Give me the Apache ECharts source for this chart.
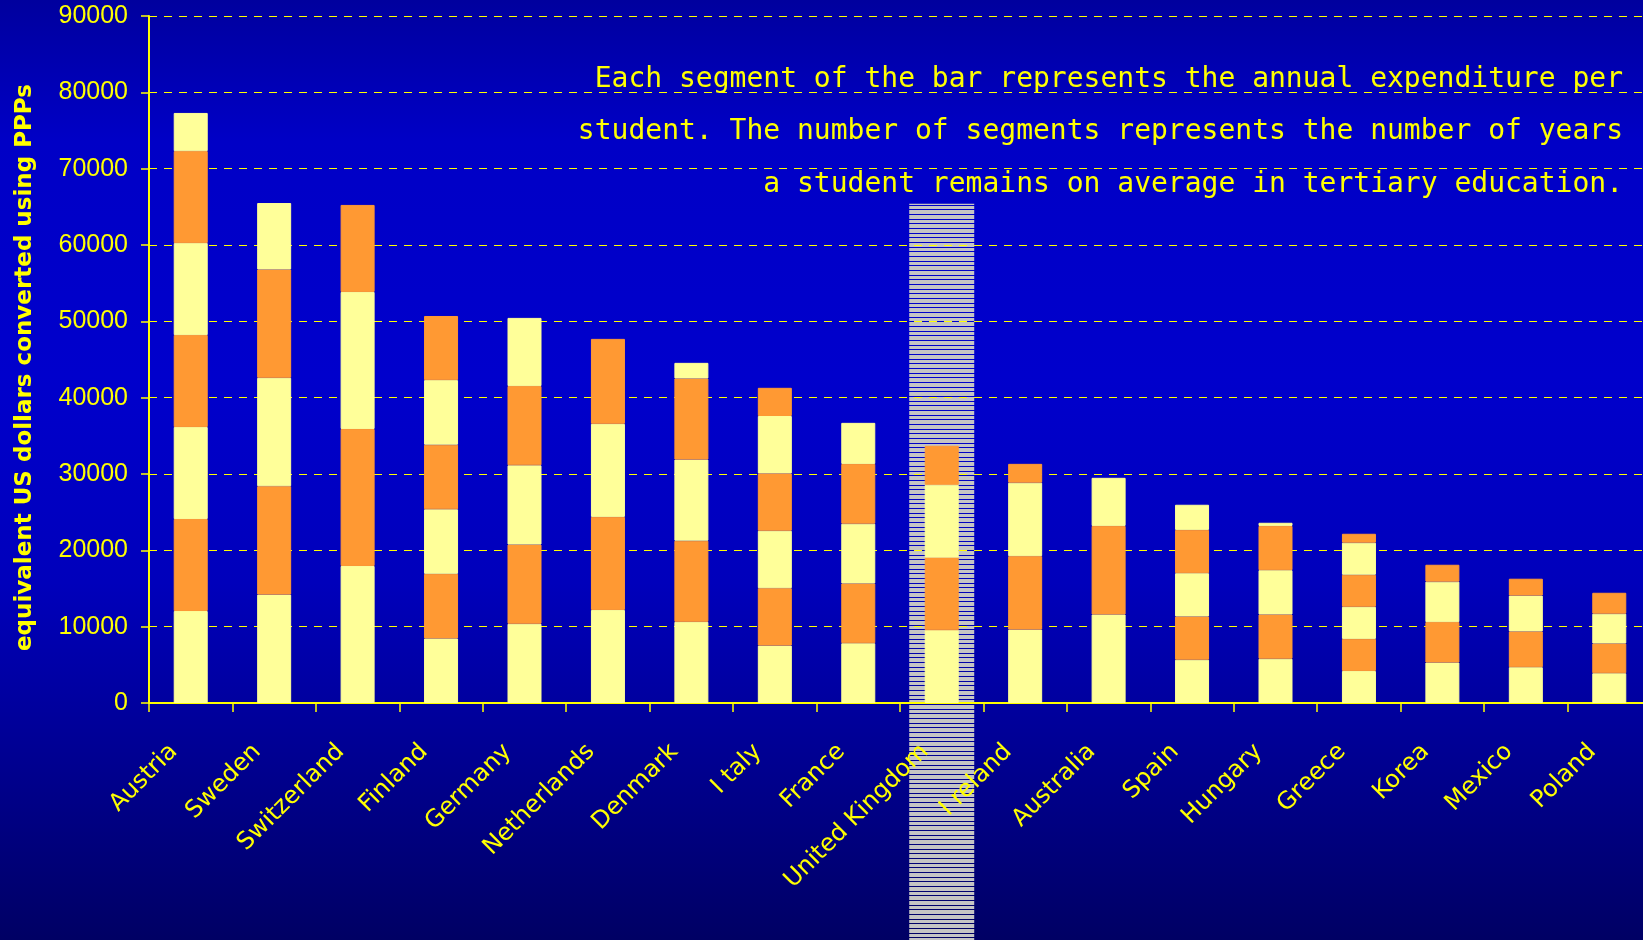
<!DOCTYPE html>
<html>
<head>
<meta charset="utf-8">
<title>Cumulative expenditure per student in tertiary education</title>
<style>
    html, body { margin: 0; padding: 0; overflow: hidden; background: #000099; }
    #chart { width: 1643px; height: 940px; }
</style>
</head>
<body>
<div id="chart"></div>
<script src="https://cdn.jsdelivr.net/npm/echarts@6/dist/echarts.min.js"></script>
<script type="text/javascript">
    // countries, left to right
    var countries = ['Austria', 'Sweden', 'Switzerland', 'Finland', 'Germany', 'Netherlands', 'Denmark', 'I taly', 'France',
        'United Kingdom', 'I reland', 'Australia', 'Spain', 'Hungary', 'Greece', 'Korea', 'Mexico', 'Poland'];
    // annual expenditure per student = height of one segment
    var annualSpend = [12050, 14200, 17950, 8460, 10380, 12190, 10630, 7520, 7830,
        9530, 9620, 11600, 5670, 5800, 4200, 5300, 4690, 3900];
    // expenditure over the average duration of studies = top of the bar
    var totalSpend = [77300, 65500, 65250, 50700, 50450, 47700, 44560, 41290, 36700,
        33700, 31330, 29500, 25970, 23610, 22170, 18110, 16280, 14440];
    // value axis
    var yMin = 0, yMax = 90000, yStep = 10000;
    var yName = 'equivalent US dollars converted using PPPs';
    var noteLines = [
        'Each segment of the bar represents the annual expenditure per',
        'student. The number of segments represents the number of years',
        'a student remains on average in tertiary education.'
    ];
    // highlighted country and the top of its striped band
    var highlightCountry = 'United Kingdom';
    var highlightTop = 65400;

    var yellow = '#ffff00';
    var segColors = ['#ffff99', '#ff9933'];

    var myChart = echarts.init(document.getElementById('chart'));

    // one stacked series per year segment
    var maxSeg = 0;
    for (var i = 0; i < countries.length; i++) {
        maxSeg = Math.max(maxSeg, Math.ceil(totalSpend[i] / annualSpend[i]));
    }
    var series = [];
    for (var k = 0; k < maxSeg; k++) {
        var data = [];
        for (var i = 0; i < countries.length; i++) {
            var rest = totalSpend[i] - k * annualSpend[i];
            data.push(rest > 0 ? Math.min(annualSpend[i], rest) : '-');
        }
        series.push({
            name: 'year ' + (k + 1),
            type: 'bar',
            stack: 'years',
            barWidth: 34,
            silent: true,
            // border in the fill colour hides the seams between segments
            itemStyle: { color: segColors[k % 2], borderColor: segColors[k % 2], borderWidth: 1 },
            data: data
        });
    }

    // grey striped fill for the highlighted band
    var stripe = document.createElement('canvas');
    stripe.width = 4;
    stripe.height = 14;
    var ctx = stripe.getContext('2d');
    ctx.fillStyle = '#c4c4c4';
    ctx.fillRect(0, 0, 4, 14);
    ctx.clearRect(0, 4, 4, 1);
    ctx.clearRect(0, 9, 4, 1);
    ctx.clearRect(0, 13, 4, 1);

    var option = {
        animation: false,
        backgroundColor: new echarts.graphic.LinearGradient(0, 0, 0, 1, [
            { offset: 0, color: '#00009e' },
            { offset: 0.15, color: '#0000c6' },
            { offset: 0.4, color: '#0000cc' },
            { offset: 0.62, color: '#0000bb' },
            { offset: 0.76, color: '#00009c' },
            { offset: 1, color: '#000064' }
        ]),
        grid: {
            left: 149, top: 16, width: 1502, height: 687,
            containLabel: false,
            outerBoundsMode: 'none'
        },
        xAxis: {
            type: 'category',
            data: countries,
            axisLine: { show: true, lineStyle: { color: yellow, width: 2 } },
            axisTick: { show: true, length: 9, lineStyle: { color: yellow, width: 1.5 } },
            axisLabel: {
                interval: 0,
                rotate: 45,
                margin: 28,
                padding: [0, 24, 0, 0],
                color: yellow,
                fontFamily: 'DejaVu Sans',
                fontSize: 24
            },
            splitLine: { show: false }
        },
        yAxis: {
            type: 'value',
            min: yMin,
            max: yMax,
            interval: yStep,
            name: yName,
            nameLocation: 'middle',
            nameGap: 112,
            nameTextStyle: {
                color: yellow,
                fontFamily: 'DejaVu Sans',
                fontWeight: 'bold',
                fontSize: 23,
                padding: [0, 16, 0, 0]
            },
            axisLine: { show: true, lineStyle: { color: yellow, width: 2 } },
            axisTick: { show: true, length: 8, lineStyle: { color: yellow, width: 1.5 } },
            axisLabel: {
                margin: 21,
                color: yellow,
                fontFamily: 'Liberation Sans',
                fontSize: 25,
                formatter: function (v) { return String(v); }
            },
            splitLine: {
                show: true,
                lineStyle: { color: yellow, width: 1.2, type: [8, 7] }
            }
        },
        graphic: [{
            id: 'note',
            type: 'text',
            right: 20,
            top: 53,
            z: 10,
            silent: true,
            style: {
                text: noteLines.join('\n'),
                fill: yellow,
                font: '500 28px "DejaVu Sans Mono"',
                textAlign: 'right',
                lineHeight: 52.5
            }
        }],
        series: series
    };

    myChart.setOption(option);

    // striped band behind the highlighted country, down to the bottom edge
    var p = myChart.convertToPixel({ gridIndex: 0 }, [countries.indexOf(highlightCountry), highlightTop]);
    myChart.setOption({
        graphic: [{
            id: 'band',
            type: 'rect',
            z: -1,
            silent: true,
            shape: { x: p[0] - 32.5, y: p[1], width: 65, height: myChart.getHeight() - p[1] },
            style: { fill: { image: stripe, repeat: 'repeat' } }
        }]
    });
</script>
</body>
</html>
